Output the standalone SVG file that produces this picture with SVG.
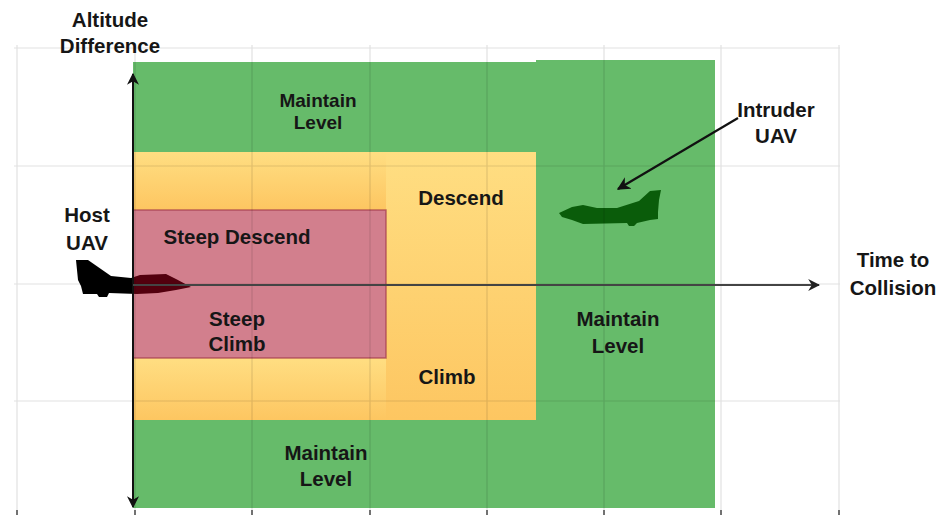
<svg xmlns="http://www.w3.org/2000/svg" width="946" height="515" viewBox="0 0 946 515">
  <defs>
    <linearGradient id="amber" x1="0" y1="0" x2="0" y2="1">
      <stop offset="0" stop-color="#ffde82"/>
      <stop offset="1" stop-color="#fdc661"/>
    </linearGradient>
    <marker id="head" viewBox="0 0 10 10" refX="9" refY="5" markerWidth="6" markerHeight="6" orient="auto-start-reverse" markerUnits="strokeWidth">
      <path d="M0,0 L10,5 L0,10 L3,5 Z" fill="#111"/>
    </marker>
    <marker id="headGray" viewBox="0 0 10 10" refX="9" refY="5" markerWidth="6" markerHeight="6" orient="auto" markerUnits="strokeWidth">
      <path d="M0,0 L10,5 L0,10 L3,5 Z" fill="#222"/>
    </marker>
  </defs>
  <style>
    text { font-family: "Liberation Sans", Arial, sans-serif; font-weight: bold; font-size: 20.5px; fill: #161616; text-anchor: middle; }
    .small { font-size: 19px; }
    .green { fill: #66bb6a; }
    .amber { fill: url(#amber); }
    .grid { stroke: #000; stroke-opacity: 0.12; stroke-width: 1.2; fill: none; }
    .tick { stroke: #444; stroke-width: 1.5; }
  </style>

  <rect width="946" height="515" fill="#fff"/>

  <!-- Maintain-level zones -->
  <g id="maintain-near">
    <rect class="green" x="133" y="62" width="403" height="446"/>
    <text class="small" x="318" y="107">Maintain</text>
    <text class="small" x="318" y="129">Level</text>
    <text x="326" y="460">Maintain</text>
    <text x="326" y="486">Level</text>
  </g>
  <g id="maintain-far">
    <rect class="green" x="536" y="60" width="179" height="448"/>
    <text x="618" y="326">Maintain</text>
    <text x="618" y="353">Level</text>
  </g>

  <!-- Descend / climb zone -->
  <g id="descend-climb">
    <rect class="amber" x="133" y="152" width="253" height="58"/>
    <rect class="amber" x="133" y="358" width="253" height="62"/>
    <rect class="amber" x="386" y="152" width="150" height="268"/>
    <text x="461" y="205">Descend</text>
    <text x="447" y="384">Climb</text>
  </g>

  <!-- white backing for the translucent steep zone -->
  <rect x="133" y="210" width="253" height="148" fill="#fff"/>

  <!-- Host aircraft -->
  <g id="host-uav">
    <path d="M76,260 L88,260 L111,276 L131,278 L140,275 L166,274 L176,279 L191,287 L176,290 L158,293 L137,294 L109,293 L107,297 L99,297 L97,294 L83,294 L81,286 L78,280 Z" fill="#000"/>
    <text x="87" y="222">Host</text>
    <text x="87" y="250">UAV</text>
  </g>

  <!-- Steep manoeuvre zone (translucent so the aircraft shows through) -->
  <g id="steep">
    <rect x="133" y="210" width="253" height="148" fill="#a6001c" fill-opacity="0.5" stroke="#a33a4c" stroke-opacity="0.7" stroke-width="1.5"/>
    <text x="237" y="244">Steep Descend</text>
    <text x="237" y="326">Steep</text>
    <text x="237" y="351">Climb</text>
  </g>

  <!-- Intruder aircraft -->
  <g id="intruder-uav">
    <path d="M559,213 L572,207 L583,205 L597,208 L617,208 L639,201 L650,191 L661,190 L659,200 L658,212 L658,219 L650,220 L637,223 L634,226 L629,226 L627,223 L583,224 L572,220 L562,217 Z" fill="#0a5c0a"/>
    <text x="776" y="117">Intruder</text>
    <text x="776" y="143">UAV</text>
  </g>

  <!-- Grid -->
  <g id="grid">
    <path class="grid" d="M14,48 H840 M14,166 H840 M14,284 H840 M14,401 H840 M17,45 V510 M135,45 V510 M252,45 V510 M370,45 V510 M487,45 V510 M604,45 V510 M721,45 V510 M839,45 V510"/>
    <path class="tick" d="M17,510 V515 M135,510 V515 M252,510 V515 M370,510 V515 M487,510 V515 M604,510 V515 M721,510 V515 M839,510 V515"/>
  </g>

  <!-- Axes and pointer -->
  <g id="connectors">
    <line x1="133" y1="507" x2="133" y2="74" stroke="#111" stroke-width="2" marker-start="url(#head)" marker-end="url(#head)"/>
    <line x1="133" y1="285" x2="819" y2="285" stroke="#444" stroke-width="2" marker-end="url(#headGray)"/>
    <line x1="738" y1="118" x2="618" y2="189" stroke="#111" stroke-width="2.2" marker-end="url(#head)"/>
  </g>

  <g id="axis-labels">
    <text x="110" y="27">Altitude</text>
    <text x="110" y="53">Difference</text>
    <text x="893" y="267">Time to</text>
    <text x="893" y="295">Collision</text>
  </g>
</svg>
